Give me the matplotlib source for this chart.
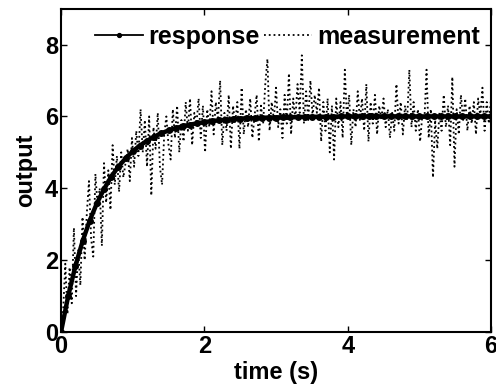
import numpy as np
import matplotlib.pyplot as plt

plt.rcParams['font.family'] = ['Liberation Sans', 'DejaVu Sans']
plt.rcParams['font.weight'] = 'bold'

# response curve read at 0.1 s steps
t_resp = np.round(np.arange(0, 6.01, 0.1), 2)
response = [0.00, 1.00, 1.83, 2.52, 3.10, 3.58, 3.98, 4.32, 4.60, 4.83,
            5.03, 5.19, 5.32, 5.44, 5.53, 5.61, 5.67, 5.73, 5.77, 5.81,
            5.84, 5.87, 5.89, 5.91, 5.92, 5.94, 5.95, 5.95, 5.96, 5.97,
            5.97, 5.98, 5.98, 5.98, 5.99, 5.99, 5.99, 5.99, 5.99, 6.00,
            6.00, 6.00, 6.00, 6.00, 6.00, 6.00, 6.00, 6.00, 6.00, 6.00,
            6.00, 6.00, 6.00, 6.00, 6.00, 6.00, 6.00, 6.00, 6.00, 6.00,
            6.00]

# noisy measurement, sampled every 0.03 s
t_meas = np.linspace(0, 6, 201)
measurement = [0.0, 0.6, 1.9, 0.5, 1.8, 0.8, 2.9, 1.0, 2.3, 1.3,
               3.2, 2.0, 3.3, 4.2, 2.6, 2.1, 4.4, 3.5, 4.0, 2.4,
               4.7, 3.6, 4.5, 3.4, 5.2, 4.1, 4.9, 3.9, 5.0, 4.3,
               4.7, 5.1, 4.2, 5.4, 4.6, 5.6, 4.9, 6.2, 5.0, 5.9,
               4.6, 6.0, 3.8, 5.7, 5.1, 6.1, 4.6, 4.1, 5.5, 6.0,
               5.2, 4.8, 6.2, 5.4, 6.3, 5.0, 5.9, 5.3, 6.4, 5.6,
               6.5, 5.2, 6.1, 5.8, 6.5, 5.4, 6.3, 5.0, 6.2, 5.7,
               6.7, 5.5, 6.4, 5.9, 7.0, 5.2, 6.1, 5.6, 6.6, 5.1,
               6.3, 5.8, 6.4, 5.1, 6.8, 5.5, 6.2, 5.7, 6.5, 5.4,
               6.0, 6.6, 5.3, 6.3, 5.8, 6.9, 7.6, 5.6, 6.4, 5.9,
               6.8, 5.7, 6.2, 5.4, 6.6, 5.8, 7.2, 5.5, 6.5, 5.9,
               6.9, 6.1, 7.7, 5.8, 6.7, 5.9, 7.0, 6.0, 6.6, 6.1,
               6.8, 5.3, 6.4, 5.6, 6.5, 5.0, 6.3, 4.8, 6.5, 5.7,
               6.4, 5.4, 7.3, 5.9, 6.6, 5.2, 6.2, 5.7, 6.7, 5.9,
               6.5, 5.6, 6.9, 5.3, 6.4, 5.8, 6.6, 5.5, 6.3, 5.9,
               6.5, 5.7, 6.2, 5.4, 6.1, 5.6, 6.9, 5.8, 6.4, 5.5,
               6.3, 5.9, 7.3, 5.7, 6.4, 5.6, 6.2, 5.3, 6.0, 5.9,
               7.3, 5.4, 6.2, 4.3, 5.9, 5.1, 6.1, 5.6, 6.6, 5.7,
               6.3, 5.2, 7.1, 4.6, 6.2, 5.5, 6.6, 5.9, 6.5, 5.6,
               6.3, 5.8, 6.4, 5.5, 6.5, 6.0, 6.8, 5.6, 6.4, 5.8,
               6.5]

fig = plt.figure(figsize=(4.96, 3.92), dpi=100)
ax = fig.add_axes([0.123, 0.153, 0.867, 0.825])

ax.plot(t_resp, response, 'k-', marker='.', markersize=8, linewidth=3.2,
        label='response', zorder=3)
ax.plot(t_meas, measurement, 'k:', linewidth=1.3, label='measurement')

ax.set_xlim(0, 6)
ax.set_ylim(0, 9)
ax.set_xticks([0, 2, 4, 6])
ax.set_yticks([0, 2, 4, 6, 8])
ax.tick_params(direction='in', top=True, right=True, length=4, width=1,
               labelsize=17, pad=2)
for s in ax.spines.values():
    s.set_linewidth(1.5)

ax.set_xlabel('time (s)', fontsize=17, fontweight='bold', labelpad=2)
ax.set_ylabel('output', fontsize=17, fontweight='bold', labelpad=6)

leg = ax.legend(loc='upper right', bbox_to_anchor=(0.985, 0.965), ncol=2,
                frameon=False, fontsize=18, handlelength=1.9,
                handletextpad=0.2, columnspacing=0.2, borderaxespad=0,
                borderpad=0.2, markerscale=0.7)
for h in leg.legend_handles:
    h.set_linewidth(1.3)

plt.savefig('out.png', dpi=100)
